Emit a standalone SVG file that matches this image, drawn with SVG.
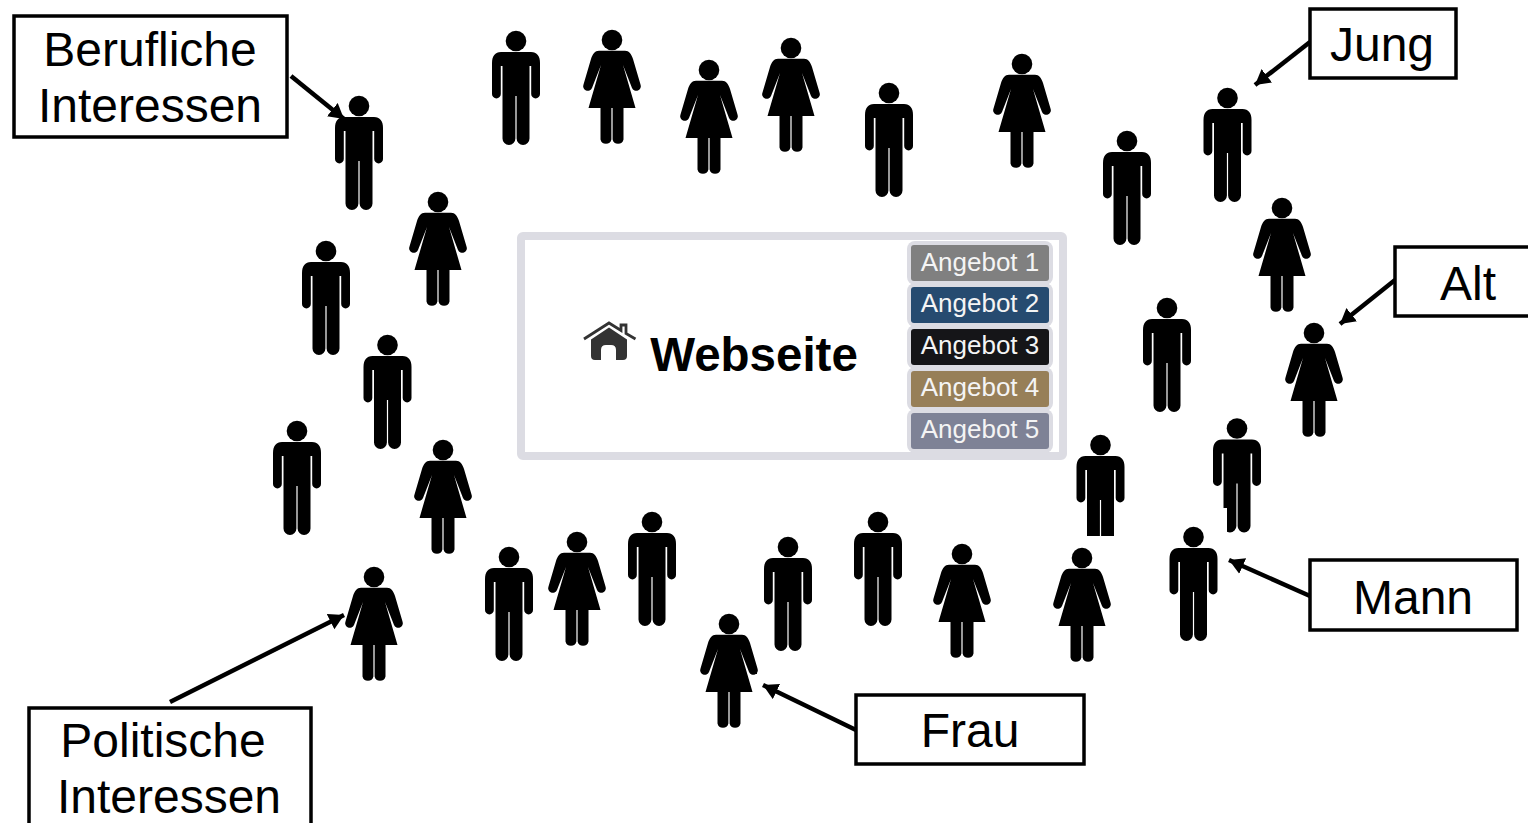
<svg xmlns="http://www.w3.org/2000/svg" width="1528" height="823" viewBox="0 0 1528 823">
<style>
.box{fill:#fff;stroke:#000;stroke-width:3.500}
.t{font-family:"Liberation Sans",Arial,sans-serif;font-size:48px;fill:#000;text-anchor:middle}
.a{font-family:"Liberation Sans",Arial,sans-serif;font-size:26px;fill:#f4f4f4;text-anchor:middle}
.halo{fill:#dcdce3}
.line{stroke:#000;stroke-width:4.500;fill:none;marker-end:url(#arr)}
</style>
<defs>
<marker id="arr" markerUnits="userSpaceOnUse" markerWidth="18" markerHeight="18" refX="15" refY="8.500" orient="auto"><path d="M0,0 L15,8.500 L0,17 Z" fill="#000"/></marker>
<g id="man"><circle cx="0" cy="0" r="10.3"/><path d="M-15,11H15C21,11 24,15 24,22V53A4.400,4.400 0 0 1 15.200,53V25H13.500V97.500A6.400,6.400 0 0 1 .6,97.500V55H-.6V97.500A6.400,6.400 0 0 1 -13.500,97.500V25H-15.200V53A4.400,4.400 0 0 1 -24,53V22C-24,15 -21,11 -15,11Z"/></g>
<g id="woman"><circle cx="0" cy="0" r="10.3"/><path d="M-13,10.700H13C17,10.700 19.500,14 21,19L28.500,44.500A4.500,4.500 0 0 1 20,48L11,25L23.500,68H11.500V99.500A5.600,5.600 0 0 1 .6,99.500V68H-.6V99.500A5.600,5.600 0 0 1 -11.500,99.500V68H-23.500L-11,25L-20,48A4.500,4.500 0 0 1 -28.500,44.500L-21,19C-19.500,14 -17,10.700 -13,10.700Z"/></g>
</defs>
<rect width="1528" height="823" fill="#fff"/>
<g id="website">
<rect x="521" y="236" width="542" height="220" rx="2" fill="#fff" stroke="#dcdce3" stroke-width="8"/>
<g id="house">
<path d="M584,339L609,323L621,330.500V325H626V333.500L635.500,339" fill="none" stroke="#333" stroke-width="2.800"/>
<path d="M609,327.500L627,339.500V356Q627,360 623,360H616V350Q616,345 611,345H606Q601,345 601,350V360H595Q591,360 591,356V339.500Z" fill="#333"/>
</g>
<text x="754" y="371" font-family="'Liberation Sans',Arial,sans-serif" font-size="47.500" font-weight="700" text-anchor="middle">Webseite</text>
<g id="offer1"><rect class="halo" x="907" y="241" width="146" height="44" rx="8"/><rect x="911" y="245" width="138" height="36" rx="3" fill="#808080"/><text class="a" x="980" y="271">Angebot 1</text></g>
<g id="offer2"><rect class="halo" x="907" y="283" width="146" height="44" rx="8"/><rect x="911" y="287" width="138" height="36" rx="3" fill="#264b70"/><text class="a" x="980" y="312">Angebot 2</text></g>
<g id="offer3"><rect class="halo" x="907" y="325" width="146" height="44" rx="8"/><rect x="911" y="329" width="138" height="36" rx="3" fill="#151518"/><text class="a" x="980" y="354">Angebot 3</text></g>
<g id="offer4"><rect class="halo" x="907" y="367" width="146" height="44" rx="8"/><rect x="911" y="371" width="138" height="36" rx="3" fill="#977f58"/><text class="a" x="980" y="396">Angebot 4</text></g>
<g id="offer5"><rect class="halo" x="907" y="409" width="146" height="44" rx="8"/><rect x="911" y="413" width="138" height="36" rx="3" fill="#7e8296"/><text class="a" x="980" y="438">Angebot 5</text></g>
</g>
<g id="people">
<use href="#man" x="516" y="41"/>
<use href="#man" x="359" y="106"/>
<use href="#man" x="889" y="93"/>
<use href="#man" x="1127" y="141"/>
<use href="#man" x="1227.500" y="98"/>
<use href="#man" x="326" y="251"/>
<use href="#man" x="387.500" y="345"/>
<use href="#man" x="1167" y="308"/>
<use href="#man" x="297" y="431"/>
<use href="#man" x="1100.500" y="445"/>
<use href="#man" x="1237" y="428.500"/>
<rect x="1060" y="536" width="80" height="20" fill="#fff"/>
<rect x="1205" y="508" width="22" height="30" fill="#fff"/>
<use href="#man" x="1193.500" y="537"/>
<use href="#man" x="509" y="557"/>
<use href="#man" x="652" y="522"/>
<use href="#man" x="788" y="547"/>
<use href="#man" x="878" y="522"/>
<use href="#woman" x="612" y="40"/>
<use href="#woman" x="709" y="70"/>
<use href="#woman" x="791" y="48"/>
<use href="#woman" x="1022" y="64"/>
<use href="#woman" x="1282" y="208"/>
<use href="#woman" x="438" y="202"/>
<use href="#woman" x="1314" y="333"/>
<use href="#woman" x="443" y="450"/>
<use href="#woman" x="374" y="577"/>
<use href="#woman" x="577" y="542"/>
<use href="#woman" x="729" y="624"/>
<rect x="751" y="672.500" width="6" height="1.500" fill="#000"/>
<use href="#woman" x="962" y="554"/>
<use href="#woman" x="1082" y="558"/>
</g>
<g id="connectors">
<line class="line" x1="291" y1="76" x2="344" y2="119"/>
<line class="line" x1="1310" y1="42" x2="1255" y2="85"/>
<line class="line" x1="1395" y1="280" x2="1340" y2="324"/>
<line class="line" x1="1310" y1="596" x2="1229" y2="560"/>
<line class="line" x1="856" y1="730" x2="763" y2="685"/>
<line class="line" x1="170" y1="702" x2="344" y2="615"/>
</g>
<g id="n-berufliche"><rect class="box" x="14" y="16" width="273" height="121"/><text class="t" x="150" y="66">Berufliche</text><text class="t" x="150" y="122">Interessen</text></g>
<g id="n-jung"><rect class="box" x="1310" y="9" width="146" height="69"/><text class="t" x="1382" y="61">Jung</text></g>
<g id="n-alt"><rect class="box" x="1395" y="247" width="140" height="69"/><text class="t" x="1468" y="300">Alt</text></g>
<g id="n-mann"><rect class="box" x="1310" y="560" width="207" height="70"/><text class="t" x="1413" y="614">Mann</text></g>
<g id="n-frau"><rect class="box" x="856" y="695" width="228" height="69"/><text class="t" x="970" y="747">Frau</text></g>
<g id="n-politische"><rect class="box" x="29" y="708" width="282" height="130"/><text class="t" x="163" y="757">Politische</text><text class="t" x="169" y="813">Interessen</text></g>
</svg>
